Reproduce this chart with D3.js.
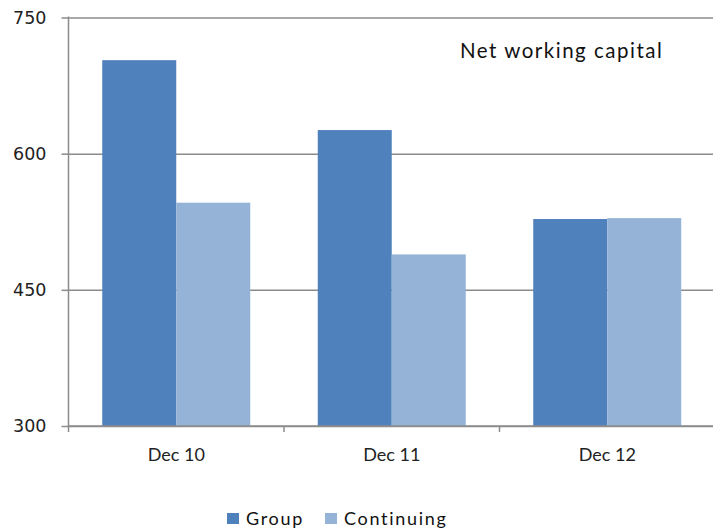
<!DOCTYPE html>
<html>
<head>
<meta charset="utf-8">
<script src="https://cdn.jsdelivr.net/npm/d3@7"></script>
<style>
  html, body { margin: 0; padding: 0; background: #fff; }
  svg { display: block; }
</style>
</head>
<body>
<svg id="chart" width="713" height="529"></svg>
<script>
// Net working capital by period, two series
const categories = ["Dec 10", "Dec 11", "Dec 12"];
const seriesNames = ["Group", "Continuing"];
const groupValues = [703, 626, 528];
const continuingValues = [546, 489, 529];
const yTicks = [300, 450, 600, 750];
const colors = ["#4f81bd", "#95b3d7"];

const data = categories.map((c, i) => ({
  category: c,
  values: [groupValues[i], continuingValues[i]]
}));

const svg = d3.select("#chart");
const plotLeft = 68.5, plotRight = 715, plotTop = 17.5, plotBottom = 426;

const x = d3.scaleBand().domain(categories).range([plotLeft, plotRight]).paddingInner(0).paddingOuter(0);
const inner = d3.scaleBand().domain(seriesNames).range([0, x.bandwidth()]).paddingInner(0).paddingOuter(0.456);
const y = d3.scaleLinear().domain([300, 750]).range([plotBottom, plotTop]);

const gridColor = "#8c8c8c";
const textFont = "Lato, 'Open Sans', sans-serif";

// horizontal gridlines with left tick marks
const yAxis = d3.axisLeft(y).tickValues(yTicks).tickSize(7).tickPadding(15).tickFormat(d3.format("d"));
const gy = svg.append("g").attr("transform", `translate(${plotLeft},0)`).call(yAxis);
gy.select(".domain").remove();
gy.selectAll(".tick line").attr("stroke", gridColor).attr("stroke-width", 1.5);
gy.selectAll(".tick text")
  .attr("font-family", "'DejaVu Sans', Verdana, sans-serif")
  .attr("font-size", 17.5)
  .attr("fill", "#222");
gy.selectAll(".tick")
  .append("line")
  .attr("x1", 0).attr("x2", 713 - plotLeft)
  .attr("stroke", gridColor).attr("stroke-width", 1.5);

// bars
const groups = svg.append("g").selectAll("g").data(data).join("g")
  .attr("transform", d => `translate(${x(d.category)},0)`);
groups.selectAll("rect")
  .data(d => d.values.map((v, j) => ({ name: seriesNames[j], value: v, j })))
  .join("rect")
  .attr("x", d => inner(d.name))
  .attr("width", inner.bandwidth())
  .attr("y", d => y(d.value))
  .attr("height", d => y(300) - y(d.value))
  .attr("fill", d => colors[d.j]);

// vertical axis line
svg.append("line")
  .attr("x1", plotLeft).attr("x2", plotLeft).attr("y1", plotTop - 1).attr("y2", plotBottom + 6)
  .attr("stroke", gridColor).attr("stroke-width", 1.5);

// category axis
const xAxis = d3.axisBottom(x).tickSize(0).tickPadding(22);
const gx = svg.append("g").attr("transform", `translate(0,${plotBottom})`).call(xAxis);
gx.select(".domain").remove();
gx.selectAll(".tick text")
  .attr("font-family", textFont)
  .attr("font-size", 18)
  .attr("fill", "#222");
// category boundary ticks
const boundaries = categories.map(c => x(c) + x.bandwidth()).slice(0, -1);
svg.append("g").selectAll("line").data(boundaries).join("line")
  .attr("x1", d => d).attr("x2", d => d)
  .attr("y1", plotBottom).attr("y2", plotBottom + 6)
  .attr("stroke", gridColor).attr("stroke-width", 1.5);
svg.append("line")
  .attr("x1", plotLeft).attr("x2", 713).attr("y1", plotBottom).attr("y2", plotBottom)
  .attr("stroke", gridColor).attr("stroke-width", 1.5);

// title
svg.append("text")
  .attr("x", 460).attr("y", 58)
  .attr("font-family", textFont)
  .attr("font-size", 20.5)
  .attr("letter-spacing", 1.5)
  .attr("fill", "#111")
  .text("Net working capital");

// legend
const legend = svg.append("g").attr("transform", "translate(227,513)");
const legendX = [0, 98];
seriesNames.forEach((name, i) => {
  const g = legend.append("g").attr("transform", `translate(${legendX[i]},0)`);
  g.append("rect").attr("width", 12).attr("height", 11).attr("fill", colors[i]);
  g.append("text").attr("x", 19).attr("y", 11.5)
    .attr("font-family", textFont)
    .attr("font-size", 18)
    .attr("letter-spacing", 1.7)
    .attr("fill", "#111")
    .text(name);
});
</script>
</body>
</html>
